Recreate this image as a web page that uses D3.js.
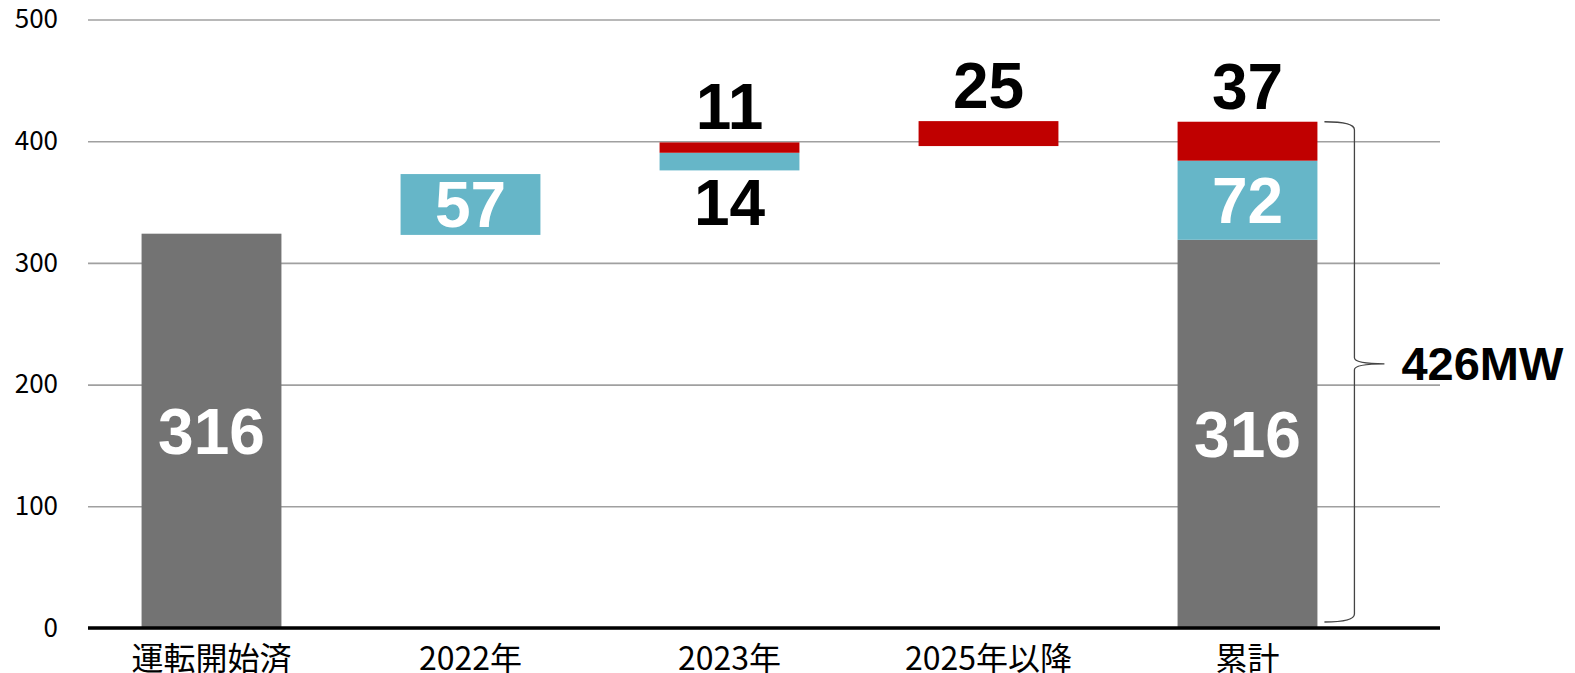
<!DOCTYPE html>
<html>
<head>
<meta charset="utf-8">
<script src="https://cdn.jsdelivr.net/npm/d3@7"></script>
<style>
  body { margin: 0; background: #fff; }
  svg { display: block; }
  .ytick text { font-family: "Noto Sans CJK JP", "Noto Sans", sans-serif; font-size: 26px; fill: #000; }
  .cat { font-family: "Noto Sans CJK JP", sans-serif; font-size: 32px; fill: #000; }
  .val { font-family: "Liberation Sans", Arial, sans-serif; font-weight: bold; font-size: 64px; }
</style>
</head>
<body>
<svg id="chart"></svg>
<script>
// categories on the x axis
const categories = ['運転開始済', '2022年', '2023年', '2025年以降', '累計'];

// floating segments (MW): which column, which series, bottom, top, label
const segCategory = ['運転開始済', '2022年', '2023年', '2023年', '2025年以降', '累計', '累計', '累計'];
const segSeries   = ['operating', 'construction', 'construction', 'development', 'development', 'operating', 'construction', 'development'];
const segLow      = [0, 323, 376, 390.5, 396, 0, 319, 384];
const segHigh     = [324, 373, 390.5, 399, 416.5, 319, 384, 416];
const segLabel    = ['316', '57', '14', '11', '25', '316', '72', '37'];

const yTicks = [0, 100, 200, 300, 400, 500];
const totalLabel = '426MW';

const colors = { operating: '#737373', construction: '#66b6c8', development: '#c00000' };

const w = 1575, h = 673;
const svg = d3.select('#chart').attr('width', w).attr('height', h);

const plotLeft = 88, plotRight = 1440;

const yScale = d3.scaleLinear()
  .domain([0, 500])
  .range([628, 19.5]);

const xScale = d3.scaleBand()
  .domain(categories)
  .range([82, 1377])
  .paddingInner(0.46)
  .paddingOuter(0.23);

// gridlines + y tick labels
const yAxis = d3.axisLeft(yScale)
  .tickValues(yTicks)
  .tickSize(-(plotRight - plotLeft))
  .tickPadding(30);

const yAxisGroup = svg.append('g')
  .attr('class', 'ytick')
  .attr('transform', `translate(${plotLeft},0)`)
  .call(yAxis);
yAxisGroup.select('.domain').remove();
yAxisGroup.selectAll('line')
  .attr('stroke', '#a0a0a0')
  .attr('stroke-width', 1.6);

// bars
const segs = segLow.map((d, i) => ({
  cat: segCategory[i], series: segSeries[i], low: segLow[i], high: segHigh[i], label: segLabel[i]
}));

svg.selectAll('rect.seg')
  .data(segs)
  .enter()
  .append('rect')
  .attr('class', 'seg')
  .attr('x', (d) => xScale(d.cat))
  .attr('y', (d) => yScale(d.high))
  .attr('width', xScale.bandwidth())
  .attr('height', (d) => yScale(d.low) - yScale(d.high))
  .attr('fill', (d) => colors[d.series]);

// baseline
svg.append('line')
  .attr('x1', plotLeft).attr('x2', plotRight)
  .attr('y1', yScale(0)).attr('y2', yScale(0))
  .attr('stroke', '#000')
  .attr('stroke-width', 3.5);

// value labels: inside if the bar is tall enough, otherwise above (red) / below (teal)
svg.selectAll('text.val')
  .data(segs)
  .enter()
  .append('text')
  .attr('class', 'val')
  .attr('text-anchor', 'middle')
  .attr('x', (d) => xScale(d.cat) + xScale.bandwidth() / 2)
  .attr('y', (d) => {
    if (d.high - d.low >= 40) return (yScale(d.low) + yScale(d.high)) / 2 + 23;
    if (d.series === 'construction') return yScale(d.low) + 55;
    return yScale(d.high) - 13;
  })
  .attr('fill', (d) => (d.high - d.low >= 40 ? '#fff' : '#000'))
  .text((d) => d.label);

// category labels
svg.selectAll('text.cat')
  .data(categories)
  .enter()
  .append('text')
  .attr('class', 'cat')
  .attr('text-anchor', 'middle')
  .attr('x', (d) => xScale(d) + xScale.bandwidth() / 2)
  .attr('y', 670)
  .text((d) => d);

// brace beside the total column
const lastCat = categories[categories.length - 1];
const braceTop = yScale(d3.max(segs.filter((d) => d.cat === lastCat), (d) => d.high));
const braceBot = yScale(0) - 6;
const braceMid = (braceTop + braceBot) / 2 - 8;
const bx0 = xScale(lastCat) + xScale.bandwidth() + 7;
const bx1 = bx0 + 30;
const bx2 = bx1 + 30;

const p = d3.path();
p.moveTo(bx0, braceTop);
p.quadraticCurveTo(bx1, braceTop, bx1, braceTop + 8);
p.lineTo(bx1, braceMid - 6);
p.quadraticCurveTo(bx1, braceMid, bx2, braceMid);
p.quadraticCurveTo(bx1, braceMid, bx1, braceMid + 6);
p.lineTo(bx1, braceBot - 8);
p.quadraticCurveTo(bx1, braceBot, bx0, braceBot);

svg.append('path')
  .attr('d', p.toString())
  .attr('fill', 'none')
  .attr('stroke', '#444')
  .attr('stroke-width', 1.3);

svg.append('text')
  .attr('class', 'val')
  .attr('x', bx2 + 17)
  .attr('y', braceMid + 16)
  .attr('fill', '#000')
  .style('font-size', '47px')
  .text(totalLabel);
</script>
</body>
</html>
